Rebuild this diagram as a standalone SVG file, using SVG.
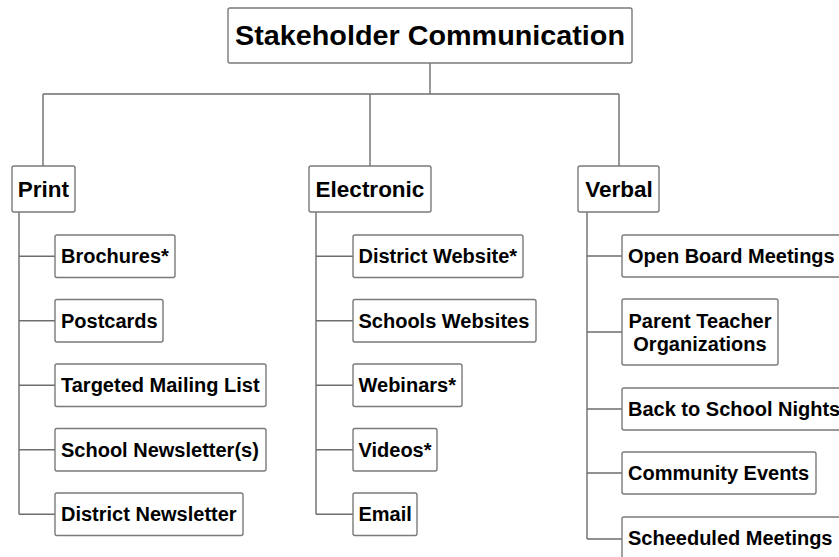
<svg xmlns="http://www.w3.org/2000/svg" width="839" height="557" viewBox="0 0 839 557">
<style>
.box{fill:#fff;stroke:#7a7a7a;stroke-width:1.4}
.ln{fill:none;stroke:#6e6e6e;stroke-width:1.4}
text{font-family:"Liberation Sans",Arial,sans-serif;font-weight:bold;fill:#000}
.root{font-size:27px}
.l1{font-size:22.5px}
.c{font-size:20px}
</style>
<rect width="839" height="557" fill="#fff"/>
<g id="connectors">
<path class="ln" d="M430 63V94M43 94H619M43 94V166M370 94V166M619 94V166"/>
<path class="ln" d="M19 212V514.25M19 256.25H55M19 320.75H55M19 385.25H55M19 449.75H55M19 514.25H55"/>
<path class="ln" d="M316 212V514.25M316 256.25H353M316 320.75H353M316 385.25H353M316 449.75H353M316 514.25H353"/>
<path class="ln" d="M587 212V539M587 256H622M587 332H622M587 409H622M587 473H622M587 539H622"/>
</g>
<g id="root"><rect class="box" x="228" y="8" width="404" height="55" rx="2"/><text class="root" x="430" y="45" text-anchor="middle" textLength="390" lengthAdjust="spacingAndGlyphs">Stakeholder Communication</text></g>
<g id="print"><rect class="box" x="12" y="166" width="63" height="46" rx="2"/><text class="l1" x="43.5" y="197" text-anchor="middle">Print</text></g>
<g id="electronic"><rect class="box" x="309" y="166" width="122" height="46" rx="2"/><text class="l1" x="370" y="197" text-anchor="middle">Electronic</text></g>
<g id="verbal"><rect class="box" x="578" y="166" width="81" height="46" rx="2"/><text class="l1" x="619" y="197" text-anchor="middle">Verbal</text></g>

<g id="brochures"><rect class="box" x="55" y="235" width="120" height="42.5" rx="2"/><text class="c" x="61" y="263">Brochures*</text></g>
<g id="postcards"><rect class="box" x="55" y="299.5" width="108" height="42.5" rx="2"/><text class="c" x="61" y="327.5">Postcards</text></g>
<g id="targeted"><rect class="box" x="55" y="364" width="211" height="42.5" rx="2"/><text class="c" x="61" y="392">Targeted Mailing List</text></g>
<g id="school-newsletter"><rect class="box" x="55" y="428.5" width="211" height="42.5" rx="2"/><text class="c" x="61" y="456.5">School Newsletter(s)</text></g>
<g id="district-newsletter"><rect class="box" x="55" y="493" width="188" height="42.5" rx="2"/><text class="c" x="61" y="521">District Newsletter</text></g>

<g id="district-website"><rect class="box" x="353" y="235" width="170" height="42.5" rx="2"/><text class="c" x="358.5" y="263">District Website*</text></g>
<g id="schools-websites"><rect class="box" x="353" y="299.5" width="183" height="42.5" rx="2"/><text class="c" x="358.5" y="327.5">Schools Websites</text></g>
<g id="webinars"><rect class="box" x="353" y="364" width="109" height="42.5" rx="2"/><text class="c" x="358.5" y="392">Webinars*</text></g>
<g id="videos"><rect class="box" x="353" y="428.5" width="84" height="42.5" rx="2"/><text class="c" x="358.5" y="456.5">Videos*</text></g>
<g id="email"><rect class="box" x="353" y="493" width="64" height="42.5" rx="2"/><text class="c" x="358.5" y="521">Email</text></g>

<g id="open-board"><rect class="box" x="622" y="235" width="222" height="42" rx="2"/><text class="c" x="628" y="263">Open Board Meetings</text></g>
<g id="pto"><rect class="box" x="622" y="299" width="156" height="66" rx="2"/><text class="c" x="700" y="327.5" text-anchor="middle">Parent Teacher</text><text class="c" x="700" y="350.5" text-anchor="middle">Organizations</text></g>
<g id="back-to-school"><rect class="box" x="622" y="388" width="244" height="42" rx="2"/><text class="c" x="628" y="416">Back to School Nights</text></g>
<g id="community"><rect class="box" x="622" y="452" width="194" height="42" rx="2"/><text class="c" x="628" y="480">Community Events</text></g>
<g id="scheduled"><rect class="box" x="622" y="517" width="222" height="50" rx="2"/><text class="c" x="628" y="545">Scheeduled Meetings</text></g>
</svg>
